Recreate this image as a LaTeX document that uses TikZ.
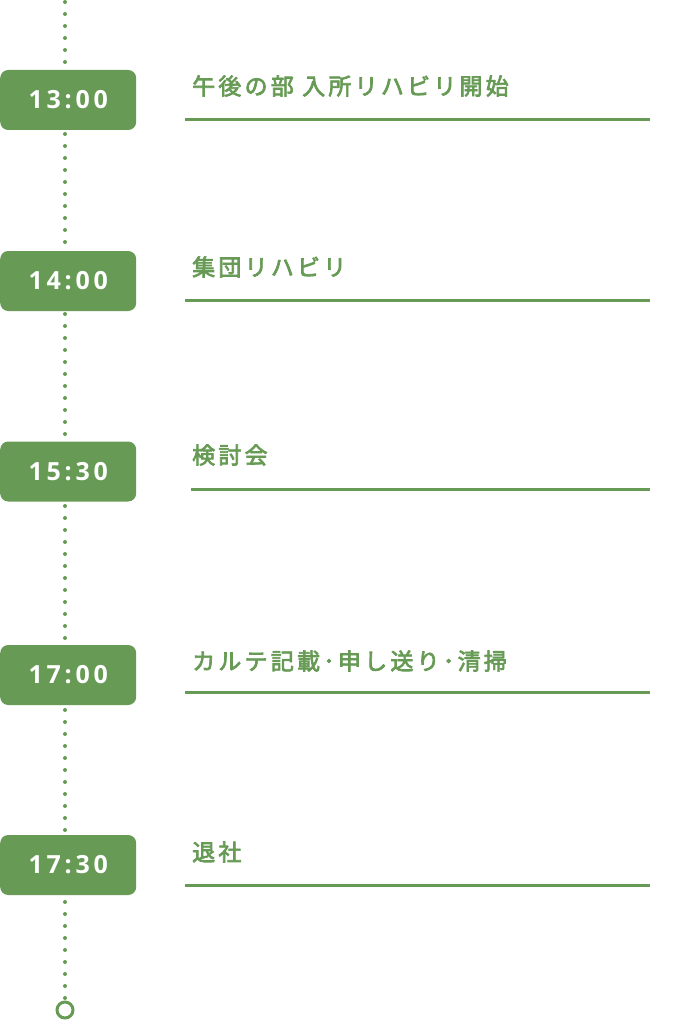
\documentclass[tikz,border=0pt]{standalone}
\usepackage{fontspec}
\setmainfont{Noto Sans}
\newfontfamily\badgefont[LetterSpace=15]{Open Sans}
\newfontfamily\jpfont[LetterSpace=14,FakeBold=3]{Noto Sans CJK JP}
\usetikzlibrary{backgrounds}
\definecolor{tlgreen}{HTML}{679B55}
\tikzset{
  badge/.style={fill=tlgreen, rounded corners=8pt, minimum width=136pt, minimum height=60pt,
    inner sep=0pt, text=white, font=\badgefont\bfseries\fontsize{25pt}{25pt}\selectfont, anchor=west},
  title/.style={text=tlgreen, font=\jpfont\fontsize{23pt}{23pt}\selectfont, anchor=west, inner sep=0pt},
  rule/.style={draw=tlgreen, line width=3pt},
  dotline/.style={draw=tlgreen, line width=4pt, line cap=round, dash pattern=on 0pt off 12pt},
  endmark/.style={circle, draw=tlgreen, line width=3pt, minimum size=16pt, inner sep=0pt, fill=white}
}
\begin{document}
\begin{tikzpicture}[x=1pt,y=-1pt]
\useasboundingbox (0,0) rectangle (672,1024);
\coordinate (top) at (65,2);
\node[endmark] (endc) at (65,1010) {};
\begin{pgfonlayer}{background}
\draw[dotline] (top) -- (endc.north);
\end{pgfonlayer}
\node[badge] (b1) at (0,100) {13:00};
\node[badge] (b2) at (0,281) {14:00};
\node[badge] (b3) at (0,471.5) {15:30};
\node[badge] (b4) at (0,675) {17:00};
\node[badge] (b5) at (0,865) {17:30};
\node[title] (t1) at (192,86) {午後の部 入所リハビリ開始};
\node[title] (t2) at (192,267) {集団リハビリ};
\node[title] (t3) at (192,455) {検討会};
\node[title] (t4) at (192,661) {カルテ記載･申し送り･清掃};
\node[title] (t5) at (192,852) {退社};
\coordinate (l1a) at (185,120); \coordinate (l1b) at (650,120);
\coordinate (l2a) at (185,300); \coordinate (l2b) at (650,300);
\coordinate (l3a) at (191,489); \coordinate (l3b) at (650,489);
\coordinate (l4a) at (185,692); \coordinate (l4b) at (650,692);
\coordinate (l5a) at (185,885); \coordinate (l5b) at (650,885);
\draw[rule] (l1a) -- (l1b);
\draw[rule] (l2a) -- (l2b);
\draw[rule] (l3a) -- (l3b);
\draw[rule] (l4a) -- (l4b);
\draw[rule] (l5a) -- (l5b);
\end{tikzpicture}
\end{document}
